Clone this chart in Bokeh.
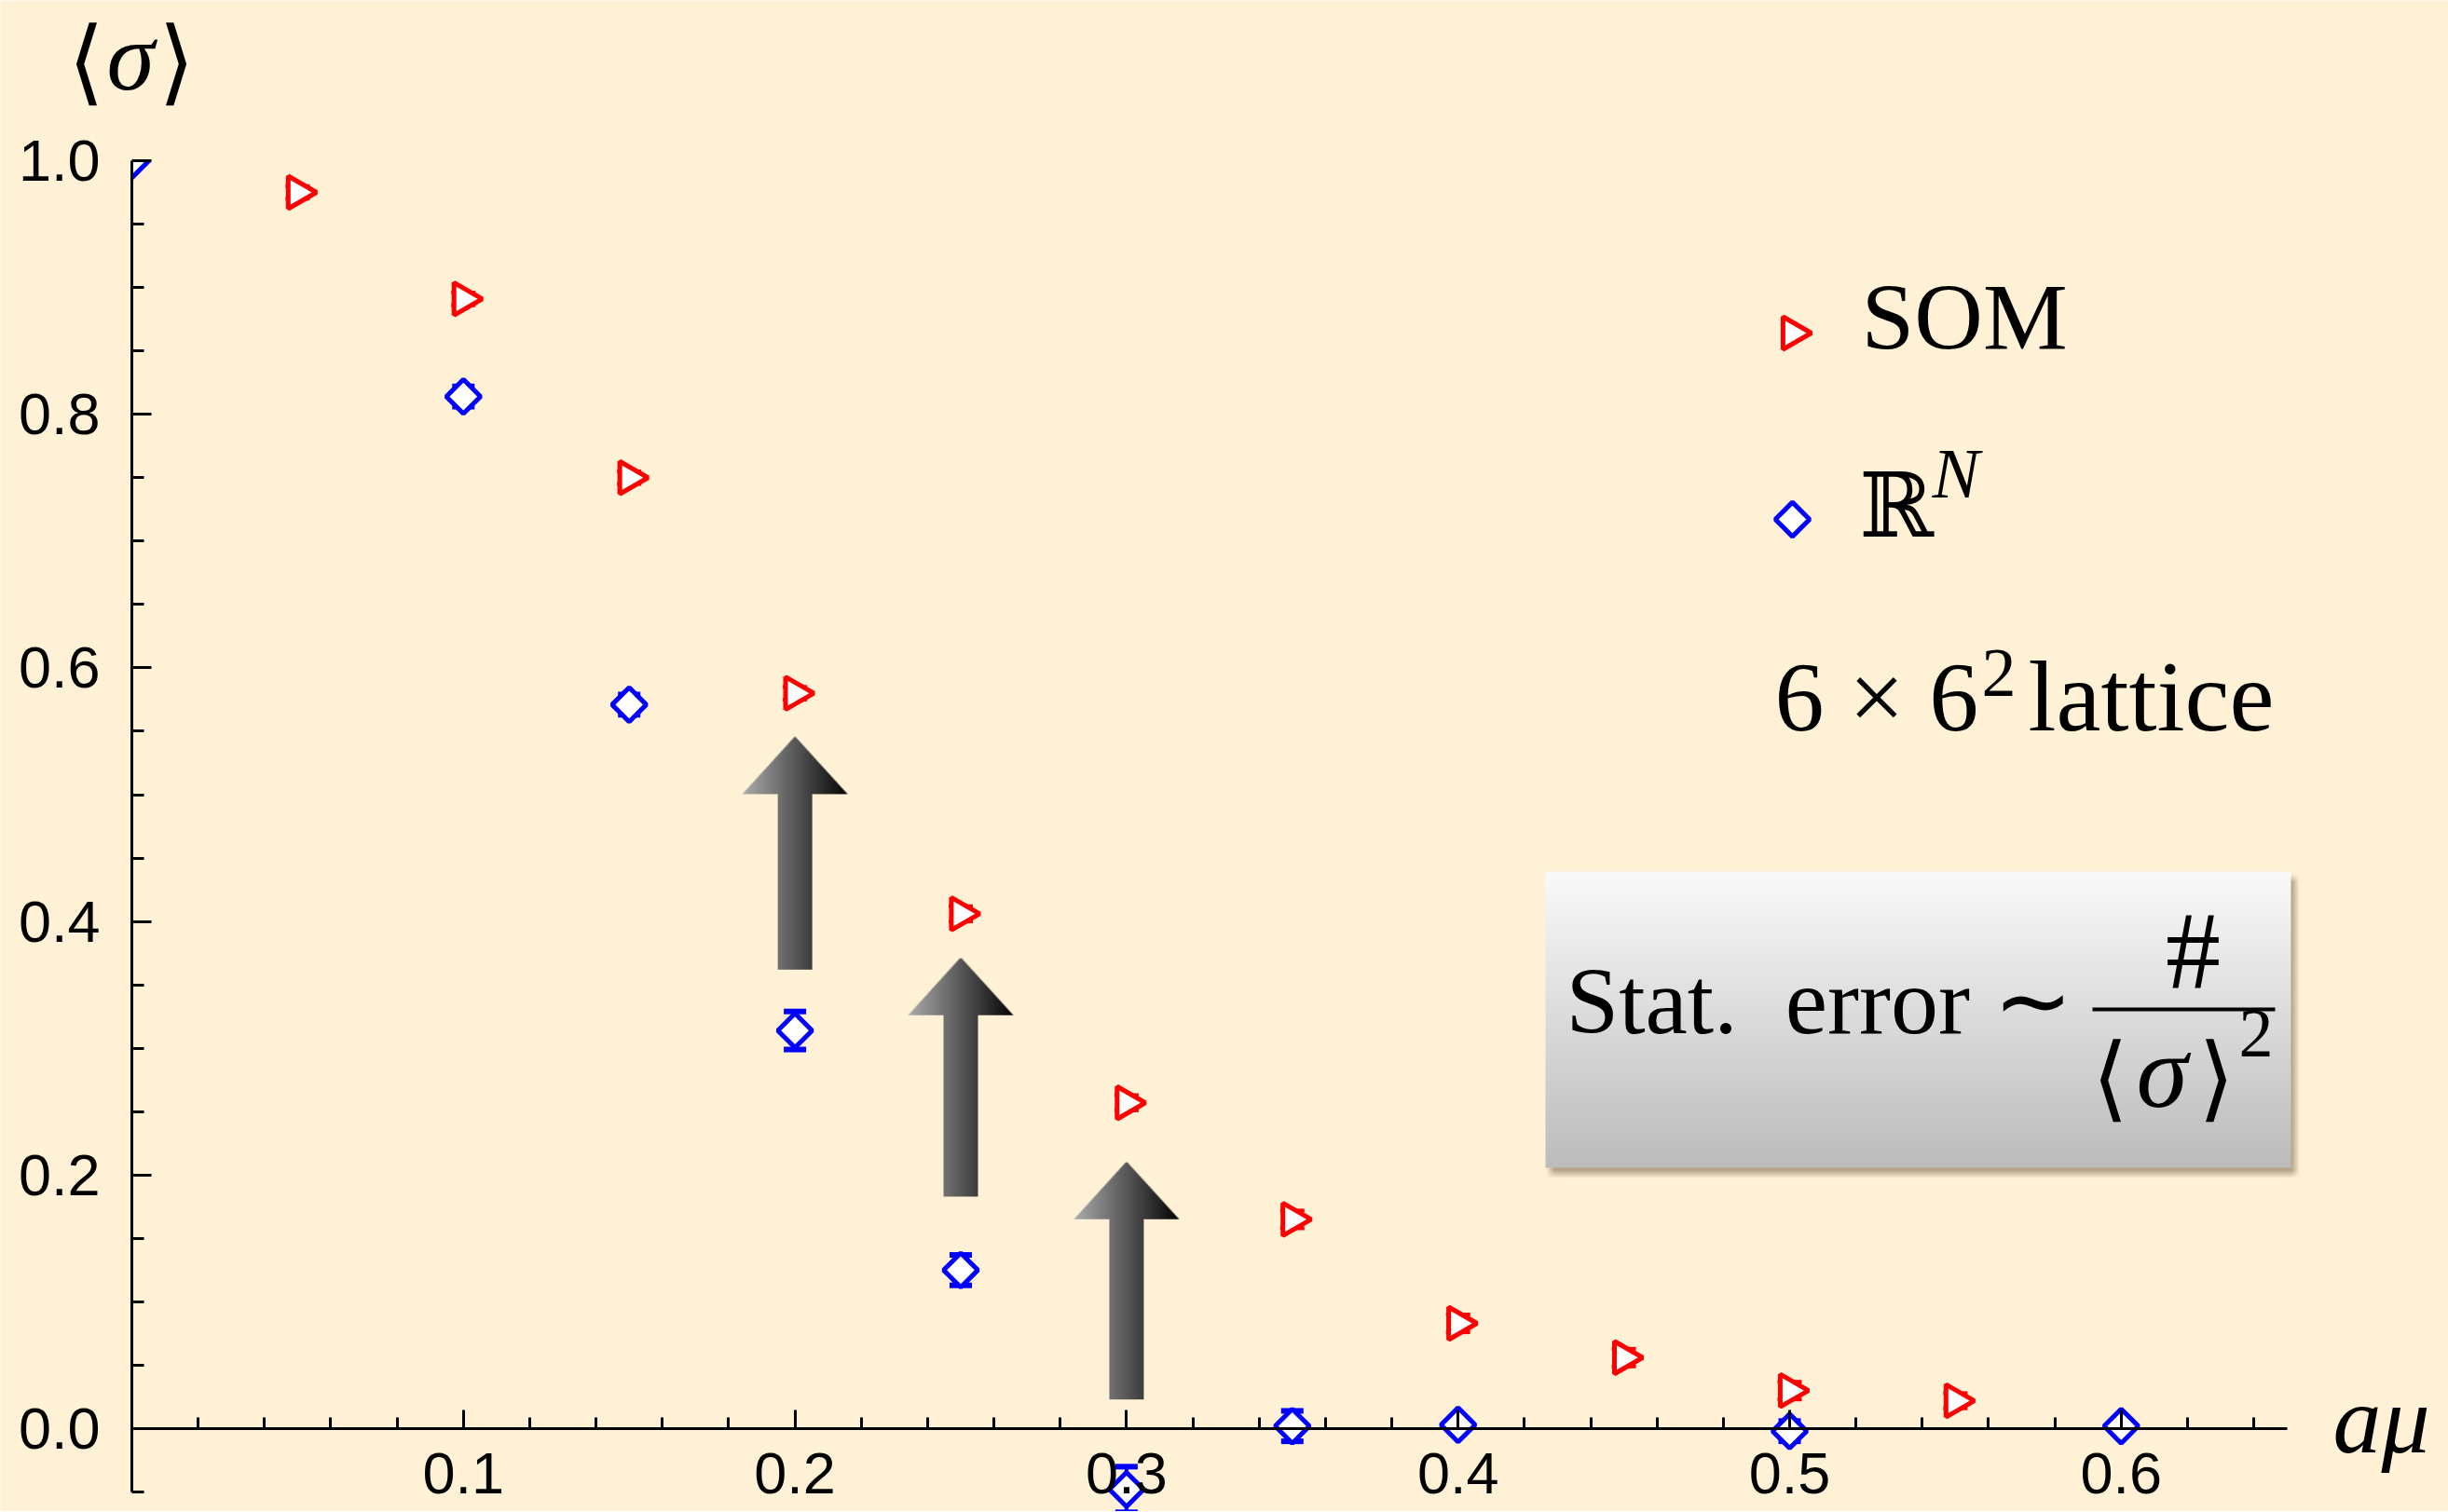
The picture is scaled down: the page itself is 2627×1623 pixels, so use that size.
import numpy as np
from bokeh.plotting import figure
from bokeh.models import (ColumnDataSource, FixedTicker, NumeralTickFormatter, Label,
                          Whisker, TeeHead, Range1d, LinearAxis)
from bokeh.embed import file_html
from bokeh.resources import INLINE

# ---------------- data ----------------
mu_som = [0.05, 0.10, 0.15, 0.20, 0.25, 0.30, 0.35, 0.40, 0.45, 0.50, 0.55]
sigma_som = [0.975, 0.891, 0.750, 0.580, 0.406, 0.257, 0.165, 0.083, 0.056, 0.030, 0.022]
err_som = [0.005, 0.005, 0.005, 0.005, 0.006, 0.006, 0.007, 0.007, 0.007, 0.007, 0.006]

mu_rn = [0.00, 0.10, 0.15, 0.20, 0.25, 0.30, 0.35, 0.40, 0.50, 0.60]
sigma_rn = [1.000, 0.814, 0.571, 0.314, 0.125, -0.048, 0.002, 0.003, -0.002, 0.002]
err_rn = [0.000, 0.008, 0.008, 0.015, 0.012, 0.018, 0.012, 0.004, 0.008, 0.004]

x_major = [0.1, 0.2, 0.3, 0.4, 0.5, 0.6]
x_minor = [0.02, 0.04, 0.06, 0.08, 0.12, 0.14, 0.16, 0.18, 0.22, 0.24, 0.26, 0.28,
           0.32, 0.34, 0.36, 0.38, 0.42, 0.44, 0.46, 0.48, 0.52, 0.54, 0.56, 0.58,
           0.62, 0.64]
y_major = [0.0, 0.2, 0.4, 0.6, 0.8, 1.0]
y_minor = [-0.05, 0.05, 0.1, 0.15, 0.25, 0.3, 0.35, 0.45, 0.5, 0.55, 0.65, 0.7, 0.75,
           0.85, 0.9, 0.95]

# annotation arrows (mu position, tail and tip in <sigma> units)
arrow_mu = [0.20, 0.25, 0.30]
arrow_tail = [0.362, 0.183, 0.023]
arrow_tip = [0.546, 0.371, 0.210]

# ---------------- layout ----------------
BG = "#FFF1D6"
W_FIG, H_FIG = 2627, 1622
OX, OY = 141, 172            # canvas px of (mu=0, sigma=1)
PX_X, PX_Y = 3558.0, 1361.0
KB = 0.36                    # empirical baseline correction (fraction of font size)


def X(px):
    return (px - OX) / PX_X


def Y(py):
    return 1.0 - (py - OY) / PX_Y


p = figure(width=W_FIG, height=H_FIG,
           x_range=Range1d(X(0), X(W_FIG)),
           y_range=Range1d(Y(H_FIG), Y(0)),
           output_backend="svg", toolbar_location=None,
           x_axis_location=None, y_axis_location=None,
           min_border_left=0, min_border_top=0,
           min_border_right=0, min_border_bottom=0,
           background_fill_color=BG, border_fill_color=BG,
           outline_line_color=None)
for g in p.grid:
    g.visible = False

TICK_FONT = "Liberation Sans"
SERIF = "Liberation Serif"
BRACKET_FONT = "'DejaVu Sans ExtraLight', 'DejaVu Sans'"


def style_axis(ax, tin, tmin):
    ax.axis_line_width = 3
    ax.axis_line_color = "black"
    ax.major_tick_line_width = 3
    ax.minor_tick_line_width = 3
    ax.major_tick_line_color = "black"
    ax.minor_tick_line_color = "black"
    ax.major_tick_in = tin
    ax.major_tick_out = 0
    ax.minor_tick_in = tmin
    ax.minor_tick_out = 0
    ax.major_label_text_font = TICK_FONT
    ax.major_label_text_font_size = "63px"
    ax.major_label_text_color = "black"


# y axis at mu = 0
ya = LinearAxis(fixed_location=0,
                ticker=FixedTicker(ticks=y_major, minor_ticks=y_minor),
                formatter=NumeralTickFormatter(format="0.0"))
ya.bounds = (-0.05, 1.0)
style_axis(ya, 21, 13)
ya.major_label_standoff = 34
p.add_layout(ya, "left")

# x axis at sigma = 0
xa = LinearAxis(fixed_location=0,
                ticker=FixedTicker(ticks=x_major, minor_ticks=x_minor),
                formatter=NumeralTickFormatter(format="0.0"))
xa.bounds = (0.0, 0.65)
style_axis(xa, 20, 12)
xa.major_label_standoff = 26
p.add_layout(xa, "below")


# ---------------- helper images ----------------
def pack_rgba(r, g, b, a):
    H, W = a.shape
    img = np.empty((H, W), dtype=np.uint32)
    v = img.view(dtype=np.uint8).reshape((H, W, 4))
    v[:, :, 0] = np.broadcast_to(r, (H, W)).astype(np.uint8)
    v[:, :, 1] = np.broadcast_to(g, (H, W)).astype(np.uint8)
    v[:, :, 2] = np.broadcast_to(b, (H, W)).astype(np.uint8)
    v[:, :, 3] = np.clip(a * 255, 0, 255).astype(np.uint8)
    return img


def arrow_image(W, H, head_px, shaft_px, ss=4):
    u = (np.arange(W * ss) + 0.5) / (W * ss)
    t = (np.arange(H * ss) + 0.5) / (H * ss)
    U, T = np.meshgrid(u, t)
    hf = head_px / H
    th = 1.0 - hf
    shaft = (np.abs(U - 0.5) <= shaft_px / (2.0 * W)) & (T < th)
    head = (T >= th) & (np.abs(U - 0.5) <= 0.5 * (1.0 - T) / hf)
    m = (shaft | head).astype(float)
    a = m.reshape(H, ss, W, ss).mean(axis=(1, 3))
    uu = (np.arange(W) + 0.5) / W
    gray = (172 - 168 * uu)[None, :]
    return pack_rgba(gray, gray, gray, a)


# gray arrows
HEAD_W, SHAFT_W, HEAD_H = 113, 37, 62
for mu, t0, t1 in zip(arrow_mu, arrow_tail, arrow_tip):
    Hpx = int(round((t1 - t0) * PX_Y))
    img = arrow_image(HEAD_W, Hpx, HEAD_H, SHAFT_W)
    dw = HEAD_W / PX_X
    p.image_rgba(image=[img], x=[mu - dw / 2], y=[t0], dw=[dw], dh=[t1 - t0])

# "Stat. error" box with shadow and vertical gradient
bx0, bx1, by_top, by_bot = 1658, 2458, 935, 1253
bw, bh = bx1 - bx0, by_bot - by_top
marg, blur, sdx, sdy = 16, 9.0, 5, 7
SW, SH = bw + 2 * marg, bh + 2 * marg
xx = np.arange(SW)[None, :] + 0.5
yy = np.arange(SH)[:, None] + 0.5
ax_ = np.clip((xx - marg) / blur + 0.5, 0, 1) * np.clip((SW - marg - xx) / blur + 0.5, 0, 1)
ay_ = np.clip((yy - marg) / blur + 0.5, 0, 1) * np.clip((SH - marg - yy) / blur + 0.5, 0, 1)
shadow = pack_rgba(120, 100, 70, 0.55 * ax_ * ay_)
p.image_rgba(image=[shadow], x=[X(bx0 - marg + sdx)], y=[Y(by_bot + marg + sdy)],
             dw=[SW / PX_X], dh=[SH / PX_Y])

rows = (np.arange(bh) + 0.5) / bh          # 0 = bottom row
gv = (188 + (250 - 188) * rows)[:, None]
box = pack_rgba(gv, gv, gv, np.ones((bh, 4)))
p.image_rgba(image=[box], x=[X(bx0)], y=[Y(by_bot)], dw=[bw / PX_X], dh=[bh / PX_Y])

# ---------------- data marks ----------------
src_som = ColumnDataSource(dict(x=mu_som, y=sigma_som,
                                lo=[s - e for s, e in zip(sigma_som, err_som)],
                                hi=[s + e for s, e in zip(sigma_som, err_som)]))
src_rn = ColumnDataSource(dict(x=mu_rn, y=sigma_rn,
                               lo=[s - e for s, e in zip(sigma_rn, err_rn)],
                               hi=[s + e for s, e in zip(sigma_rn, err_rn)]))

TRI = dict(marker="triangle", size=35, angle=-np.pi / 2, line_color="#FF0000",
           line_width=5, fill_color="white")
DIA = dict(marker="square", size=26, angle=np.pi / 4, line_color="#0000FF",
           line_width=5, fill_color="white")

p.scatter("x", "y", source=src_som, **TRI)
p.scatter("x", "y", source=src_rn, **DIA)

# plot-range clipping at mu = 0 and <sigma> = 1 (as in the original plot region)
p.quad(left=[X(OX - 45), X(OX - 45)], right=[X(OX - 1.5), X(OX + 45)],
       bottom=[Y(OY + 45), Y(OY - 1.5)], top=[Y(OY - 45), Y(OY - 45)],
       fill_color=BG, line_color=None)

p.add_layout(Whisker(source=src_som, base="x", upper="hi", lower="lo",
                     line_color="#FF0000", line_width=4,
                     upper_head=TeeHead(size=26, line_color="#FF0000", line_width=4),
                     lower_head=TeeHead(size=26, line_color="#FF0000", line_width=4)))
p.add_layout(Whisker(source=src_rn, base="x", upper="hi", lower="lo",
                     line_color="#0000FF", line_width=4,
                     upper_head=TeeHead(size=24, line_color="#0000FF", line_width=6),
                     lower_head=TeeHead(size=24, line_color="#0000FF", line_width=6)))

# ---------------- legend (hand placed) ----------------
p.scatter(x=[X(1923)], y=[Y(357)], **TRI)
p.scatter(x=[X(1923)], y=[Y(557)], **DIA)


def lab(text, px, py, size, font=SERIF, style="normal", align="left"):
    p.add_layout(Label(x=X(px), y=Y(py - KB * size), text=text, text_font=font,
                       text_font_size=f"{size}px", text_font_style=style,
                       text_align=align, text_baseline="alphabetic",
                       text_color="black"))


lab("SOM", 1997, 377, 102)
lab("\u211D", 1995, 577, 96, font="DejaVu Serif")
lab("N", 2073, 535, 76, style="italic")
lab("6 \u00D7 6", 1904, 786, 106)
lab("2", 2126, 749, 74)
lab("lattice", 2176, 786, 108)

# axis titles
lab("\u27E8", 92, 101, 100, font=BRACKET_FONT, align="center")
lab("\u03C3", 114, 97, 104, style="italic")
lab("\u27E9", 189, 101, 100, font=BRACKET_FONT, align="center")
lab("a\u03BC", 2503, 1560, 104, style="italic")

# box text
lab("Stat.\u00A0 error \u223C", 1680, 1111, 102)
lab("#", 2353, 1062, 118, align="center")
p.segment(x0=[X(2245)], y0=[Y(1083)], x1=[X(2441)], y1=[Y(1083)],
          line_color="black", line_width=4)
lab("\u27E8", 2264, 1192, 100, font=BRACKET_FONT, align="center")
lab("\u03C3", 2292, 1190, 112, style="italic")
lab("\u27E9", 2378, 1192, 100, font=BRACKET_FONT, align="center")
lab("2", 2402, 1136, 74)

open("out.html", "w").write(file_html(p, INLINE))
